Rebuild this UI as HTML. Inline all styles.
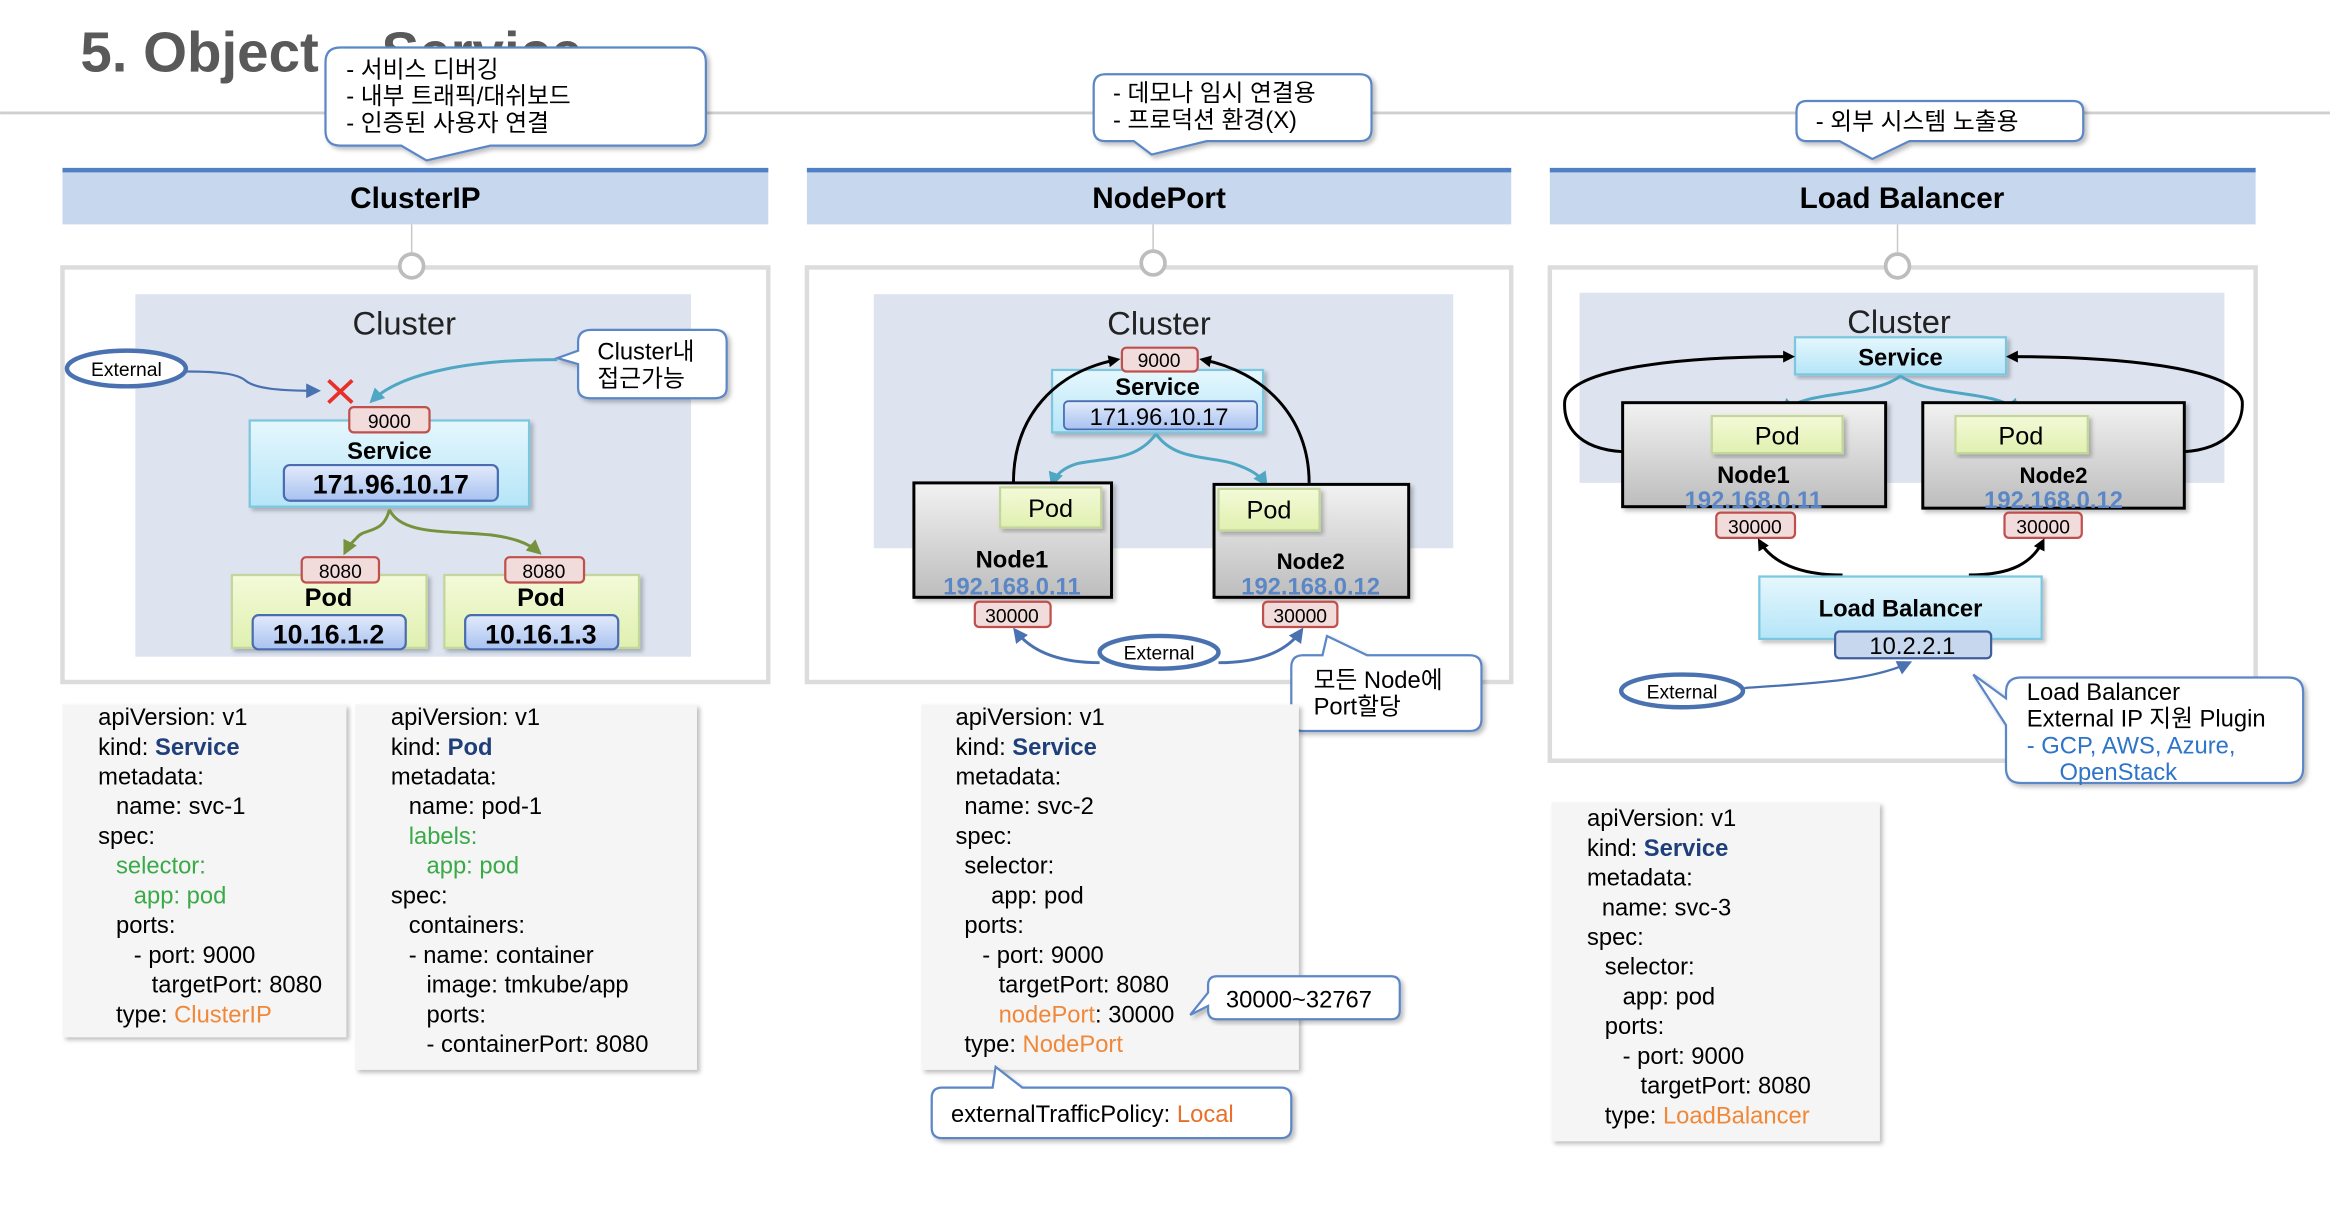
<!DOCTYPE html>
<html><head><meta charset="utf-8"><style>
html,body{margin:0;padding:0;background:#fff;width:2330px;height:1208px;overflow:hidden}
svg{display:block}
text{font-family:"Liberation Sans","Noto Sans CJK KR",sans-serif;fill:#000}
.b{font-weight:bold}
.y{font-size:16px}
.g{fill:#3aaa48}.o{fill:#f0883a}.k{fill:#1f3f7a;font-weight:bold}.bl{fill:#2e74c8}
</style></head><body>
<svg width="2330" height="1208" viewBox="0 0 1568 813" xmlns="http://www.w3.org/2000/svg">
<defs>
<linearGradient id="svc" x1="0" y1="0" x2="0" y2="1"><stop offset="0" stop-color="#e6f7fd"/><stop offset="1" stop-color="#b5e5f8"/></linearGradient>
<linearGradient id="ip" x1="0" y1="0" x2="0" y2="1"><stop offset="0" stop-color="#e3ebfb"/><stop offset="1" stop-color="#a8c2f0"/></linearGradient>
<linearGradient id="pod" x1="0" y1="0" x2="0" y2="1"><stop offset="0" stop-color="#f3fad8"/><stop offset="1" stop-color="#e0f0b0"/></linearGradient>
<linearGradient id="node" x1="0" y1="0" x2="0" y2="1"><stop offset="0" stop-color="#f2f2f2"/><stop offset="1" stop-color="#bdbdbd"/></linearGradient>
<marker id="ak" markerWidth="8" markerHeight="8" refX="6" refY="4" orient="auto" markerUnits="userSpaceOnUse"><path d="M0,0 L8,4 L0,8 z" fill="#000"/></marker>
<marker id="abl" markerWidth="10" markerHeight="10" refX="8" refY="5" orient="auto" markerUnits="userSpaceOnUse"><path d="M0,0 L10,5 L0,10 z" fill="#4a72b0"/></marker>
<marker id="at" markerWidth="10" markerHeight="10" refX="8" refY="5" orient="auto" markerUnits="userSpaceOnUse"><path d="M0,0 L10,5 L0,10 z" fill="#4fa7c3"/></marker>
<marker id="ag" markerWidth="10" markerHeight="10" refX="8" refY="5" orient="auto" markerUnits="userSpaceOnUse"><path d="M0,0 L10,5 L0,10 z" fill="#76923c"/></marker>
<filter id="sh" x="-10%" y="-10%" width="125%" height="125%"><feDropShadow dx="2" dy="2" stdDeviation="1.5" flood-color="#000" flood-opacity="0.25"/></filter>
</defs>

<!-- title + line -->
<line x1="0" y1="76" x2="1568" y2="76" stroke="#cfcfcf" stroke-width="2"/>
<text x="54" y="48" class="b" font-size="38" style="fill:#595959">5. Object – Service</text>

<!-- callouts top -->
<path d="M229,32 H465 Q475,32 475,42 V88 Q475,98 465,98 H330 L287,108 L270,98 H229 Q219,98 219,88 V42 Q219,32 229,32 Z" fill="#fff" stroke="#5b87c7" stroke-width="1.5" filter="url(#sh)"/>
<text x="233" y="52" font-size="16">- 서비스 디버깅</text>
<text x="233" y="70" font-size="16">- 내부 트래픽/대쉬보드</text>
<text x="233" y="88" font-size="16">- 인증된 사용자 연결</text>

<path d="M744,50 H915 Q923,50 923,58 V87 Q923,95 915,95 H812 L775,104 L763,95 H744 Q736,95 736,87 V58 Q736,50 744,50 Z" fill="#fff" stroke="#5b87c7" stroke-width="1.5" filter="url(#sh)"/>
<text x="749" y="68" font-size="16">- 데모나 임시 연결용</text>
<text x="749" y="86" font-size="16">- 프로덕션 환경(X)</text>

<path d="M1216,68 H1395 Q1402,68 1402,75 V88 Q1402,95 1395,95 H1285 L1260,107 L1238,95 H1216 Q1209,95 1209,88 V75 Q1209,68 1216,68 Z" fill="#fff" stroke="#5b87c7" stroke-width="1.5" filter="url(#sh)"/>
<text x="1222" y="87" font-size="16">- 외부 시스템 노출용</text>

<!-- headers -->
<g>
<rect x="42" y="113" width="475" height="38" fill="#c6d7ee"/><rect x="42" y="113" width="475" height="3" fill="#4f7fc4"/>
<text x="279.5" y="140" class="b" font-size="20" text-anchor="middle">ClusterIP</text>
<rect x="543" y="113" width="474" height="38" fill="#c6d7ee"/><rect x="543" y="113" width="474" height="3" fill="#4f7fc4"/>
<text x="780" y="140" class="b" font-size="20" text-anchor="middle">NodePort</text>
<rect x="1043" y="113" width="475" height="38" fill="#c6d7ee"/><rect x="1043" y="113" width="475" height="3" fill="#4f7fc4"/>
<text x="1280" y="140" class="b" font-size="20" text-anchor="middle">Load Balancer</text>
</g>

<!-- outer boxes -->
<rect x="42" y="180" width="475" height="279" fill="#fff" stroke="#dcdcdc" stroke-width="3"/>
<rect x="543" y="180" width="474" height="279" fill="#fff" stroke="#dcdcdc" stroke-width="3"/>
<rect x="1043" y="180" width="475" height="332" fill="#fff" stroke="#dcdcdc" stroke-width="3"/>
<g stroke="#c8c8c8" stroke-width="1"><line x1="277" y1="151" x2="277" y2="171"/><line x1="776" y1="151" x2="776" y2="171"/><line x1="1277" y1="151" x2="1277" y2="171"/></g>
<g fill="#fff" stroke="#bdbdbd" stroke-width="2.5"><circle cx="277" cy="179" r="8"/><circle cx="776" cy="177" r="8"/><circle cx="1277" cy="179" r="8"/></g>

<!-- ===== ClusterIP ===== -->
<rect x="91" y="198" width="374" height="244" fill="#dde4f0"/>
<text x="272" y="225" font-size="22" text-anchor="middle" style="fill:#222">Cluster</text>
<ellipse cx="85" cy="248" rx="40" ry="12" fill="#fff" stroke="#4a72b0" stroke-width="3"/>
<text x="85" y="253" font-size="13" text-anchor="middle">External</text>
<path d="M125,250 C150,250 160,252 165,256 C172,262 190,263 214,263" fill="none" stroke="#4a72b0" stroke-width="1.5" marker-end="url(#abl)"/>
<path d="M221,256 L237,271 M237,256 L221,271" stroke="#e8302a" stroke-width="2.5"/>
<path d="M398,222 H481 Q489,222 489,230 V261 Q489,268 481,268 H397 Q389,268 389,261 V245 L375,241 L389,236 V230 Q389,222 398,222 Z" fill="#fff" stroke="#5b87c7" stroke-width="1.5" filter="url(#sh)"/>
<text x="402" y="242" font-size="16">Cluster내</text>
<text x="402" y="260" font-size="16">접근가능</text>
<path d="M375,242 C320,242 270,250 250,270" fill="none" stroke="#4fa7c3" stroke-width="2" marker-end="url(#at)"/>
<rect x="168" y="283" width="188" height="58" fill="url(#svc)" stroke="#7cc6df" stroke-width="1.5" filter="url(#sh)"/>
<rect x="235" y="274" width="54" height="17" rx="3" fill="#f2dcdb" stroke="#c0504d" stroke-width="1.5"/>
<text x="262" y="288" font-size="13" text-anchor="middle">9000</text>
<text x="262" y="309" class="b" font-size="16" text-anchor="middle">Service</text>
<rect x="191" y="313" width="144" height="24" rx="4" fill="url(#ip)" stroke="#4a6db2" stroke-width="1.5"/>
<text x="263" y="332" class="b" font-size="18" text-anchor="middle">171.96.10.17</text>
<path d="M262,343 C258,360 245,355 240,362 C236,366 234,368 232,372" fill="none" stroke="#76923c" stroke-width="2" marker-end="url(#ag)"/>
<path d="M262,343 C270,360 300,357 330,360 C345,362 355,365 363,372" fill="none" stroke="#76923c" stroke-width="2" marker-end="url(#ag)"/>
<rect x="156" y="387" width="131" height="49" fill="url(#pod)" stroke="#c3d69b" stroke-width="1.5" filter="url(#sh)"/>
<rect x="299" y="387" width="131" height="49" fill="url(#pod)" stroke="#c3d69b" stroke-width="1.5" filter="url(#sh)"/>
<rect x="203" y="375" width="52" height="17" rx="3" fill="#f2dcdb" stroke="#c0504d" stroke-width="1.5"/>
<rect x="340" y="375" width="53" height="17" rx="3" fill="#f2dcdb" stroke="#c0504d" stroke-width="1.5"/>
<text x="229" y="389" font-size="13" text-anchor="middle">8080</text>
<text x="366" y="389" font-size="13" text-anchor="middle">8080</text>
<text x="221" y="408" class="b" font-size="17" text-anchor="middle">Pod</text>
<text x="364" y="408" class="b" font-size="17" text-anchor="middle">Pod</text>
<rect x="170" y="414" width="103" height="23" rx="4" fill="url(#ip)" stroke="#4a6db2" stroke-width="1.5"/>
<rect x="313" y="414" width="103" height="23" rx="4" fill="url(#ip)" stroke="#4a6db2" stroke-width="1.5"/>
<text x="221" y="433" class="b" font-size="18" text-anchor="middle">10.16.1.2</text>
<text x="364" y="433" class="b" font-size="18" text-anchor="middle">10.16.1.3</text>

<!-- yaml 1 & 2 -->
<rect x="42" y="474" width="191" height="224" fill="#f5f5f5" filter="url(#sh)"/>
<g class="y">
<text x="66" y="488" font-size="16">apiVersion: v1</text>
<text x="66" y="508" font-size="16">kind: <tspan class="k">Service</tspan></text>
<text x="66" y="528" font-size="16">metadata:</text>
<text x="78" y="548" font-size="16">name: svc-1</text>
<text x="66" y="568" font-size="16">spec:</text>
<text x="78" y="588" font-size="16" class="g">selector:</text>
<text x="90" y="608" font-size="16" class="g">app: pod</text>
<text x="78" y="628" font-size="16">ports:</text>
<text x="90" y="648" font-size="16">- port: 9000</text>
<text x="102" y="668" font-size="16">targetPort: 8080</text>
<text x="78" y="688" font-size="16">type: <tspan class="o">ClusterIP</tspan></text>
</g>
<rect x="239" y="474" width="230" height="246" fill="#f5f5f5" filter="url(#sh)"/>
<g>
<text x="263" y="488" font-size="16">apiVersion: v1</text>
<text x="263" y="508" font-size="16">kind: <tspan class="k">Pod</tspan></text>
<text x="263" y="528" font-size="16">metadata:</text>
<text x="275" y="548" font-size="16">name: pod-1</text>
<text x="275" y="568" font-size="16" class="g">labels:</text>
<text x="287" y="588" font-size="16" class="g">app: pod</text>
<text x="263" y="608" font-size="16">spec:</text>
<text x="275" y="628" font-size="16">containers:</text>
<text x="275" y="648" font-size="16">- name: container</text>
<text x="287" y="668" font-size="16">image: tmkube/app</text>
<text x="287" y="688" font-size="16">ports:</text>
<text x="287" y="708" font-size="16">- containerPort: 8080</text>
</g>

<!-- ===== NodePort ===== -->
<rect x="588" y="198" width="390" height="171" fill="#dde4f0"/>
<text x="780" y="225" font-size="22" text-anchor="middle" style="fill:#222">Cluster</text>
<rect x="708" y="249" width="142" height="42" fill="url(#svc)" stroke="#7cc6df" stroke-width="1.5" filter="url(#sh)"/>
<rect x="755" y="234" width="51" height="16" rx="3" fill="#f2dcdb" stroke="#c0504d" stroke-width="1.5"/>
<text x="780" y="247" font-size="13" text-anchor="middle">9000</text>
<text x="779" y="266" class="b" font-size="16" text-anchor="middle">Service</text>
<rect x="716" y="270" width="130" height="19" rx="3" fill="url(#ip)" stroke="#4a6db2" stroke-width="1.2"/>
<text x="780" y="286" font-size="16" text-anchor="middle">171.96.10.17</text>
<path d="M682,325 C682,280 710,250 752,242" fill="none" stroke="#000" stroke-width="2" marker-end="url(#ak)"/>
<path d="M881,325 C881,280 850,250 809,242" fill="none" stroke="#000" stroke-width="2" marker-end="url(#ak)"/>
<path d="M778,292 C765,310 745,308 725,312 C715,315 710,320 708,326" fill="none" stroke="#4fa7c3" stroke-width="2" marker-end="url(#at)"/>
<path d="M778,292 C790,310 815,307 830,312 C842,316 848,320 852,326" fill="none" stroke="#4fa7c3" stroke-width="2" marker-end="url(#at)"/>
<rect x="615" y="325" width="133" height="77" fill="url(#node)" stroke="#000" stroke-width="2" filter="url(#sh)"/>
<rect x="817" y="326" width="131" height="76" fill="url(#node)" stroke="#000" stroke-width="2" filter="url(#sh)"/>
<rect x="673" y="328" width="68" height="27" fill="url(#pod)" stroke="#c3d69b" stroke-width="1.5" filter="url(#sh)"/>
<rect x="820" y="329" width="68" height="28" fill="url(#pod)" stroke="#c3d69b" stroke-width="1.5" filter="url(#sh)"/>
<text x="707" y="348" font-size="17" text-anchor="middle">Pod</text>
<text x="854" y="349" font-size="17" text-anchor="middle">Pod</text>
<text x="681" y="382" class="b" font-size="16" text-anchor="middle">Node1</text>
<text x="681" y="400" class="b" font-size="16" text-anchor="middle" style="fill:#5b87c7">192.168.0.11</text>
<text x="882" y="383" class="b" font-size="15" text-anchor="middle">Node2</text>
<text x="882" y="400" class="b" font-size="16" text-anchor="middle" style="fill:#5b87c7">192.168.0.12</text>
<rect x="656" y="405" width="51" height="17" rx="3" fill="#f2dcdb" stroke="#c0504d" stroke-width="1.5"/>
<rect x="850" y="405" width="50" height="17" rx="3" fill="#f2dcdb" stroke="#c0504d" stroke-width="1.5"/>
<text x="681" y="419" font-size="13" text-anchor="middle">30000</text>
<text x="875" y="419" font-size="13" text-anchor="middle">30000</text>
<path d="M740,446 C715,446 695,440 683,424" fill="none" stroke="#4a72b0" stroke-width="2" marker-end="url(#abl)"/>
<path d="M820,446 C845,446 865,440 876,424" fill="none" stroke="#4a72b0" stroke-width="2" marker-end="url(#abl)"/>
<ellipse cx="780" cy="439" rx="40" ry="11" fill="#fff" stroke="#4a72b0" stroke-width="3"/>
<text x="780" y="444" font-size="13" text-anchor="middle">External</text>
<path d="M877,441 H890 L893,428 L920,441 H989 Q997,441 997,449 V484 Q997,492 989,492 H877 Q869,492 869,484 V449 Q869,441 877,441 Z" fill="#fff" stroke="#5b87c7" stroke-width="1.5" filter="url(#sh)"/>
<text x="884" y="463" font-size="16">모든 Node에</text>
<text x="884" y="481" font-size="16">Port할당</text>

<rect x="620" y="474" width="254" height="246" fill="#f5f5f5" filter="url(#sh)"/>
<text x="643" y="488" font-size="16">apiVersion: v1</text>
<text x="643" y="508" font-size="16">kind: <tspan class="k">Service</tspan></text>
<text x="643" y="528" font-size="16">metadata:</text>
<text x="649" y="548" font-size="16">name: svc-2</text>
<text x="643" y="568" font-size="16">spec:</text>
<text x="649" y="588" font-size="16">selector:</text>
<text x="667" y="608" font-size="16">app: pod</text>
<text x="649" y="628" font-size="16">ports:</text>
<text x="661" y="648" font-size="16">- port: 9000</text>
<text x="672" y="668" font-size="16">targetPort: 8080</text>
<text x="672" y="688" font-size="16"><tspan class="o">nodePort</tspan>: 30000</text>
<text x="649" y="708" font-size="16">type: <tspan class="o">NodePort</tspan></text>
<path d="M819,657 H936 Q942,657 942,663 V680 Q942,686 936,686 H819 Q813,686 813,680 V677 L801,683 L813,668 V663 Q813,657 819,657 Z" fill="#fff" stroke="#5b87c7" stroke-width="1.5" filter="url(#sh)"/>
<text x="825" y="678" font-size="16">30000~32767</text>
<path d="M634,732 H668 L670,718 L688,732 H862 Q869,732 869,739 V759 Q869,766 862,766 H634 Q627,766 627,759 V739 Q627,732 634,732 Z" fill="#fff" stroke="#5b87c7" stroke-width="1.5" filter="url(#sh)"/>
<text x="640" y="755" font-size="16">externalTrafficPolicy: <tspan style="fill:#e8702a">Local</tspan></text>

<!-- ===== Load Balancer ===== -->
<rect x="1063" y="197" width="434" height="128" fill="#dde4f0"/>
<text x="1278" y="224" font-size="22" text-anchor="middle" style="fill:#222">Cluster</text>
<rect x="1208" y="227" width="142" height="25" fill="url(#svc)" stroke="#7cc6df" stroke-width="1.5" filter="url(#sh)"/>
<text x="1279" y="246" class="b" font-size="16" text-anchor="middle">Service</text>
<path d="M1092,304 C1060,302 1052,285 1053,270 C1056,248 1130,240 1206,240" fill="none" stroke="#000" stroke-width="2" marker-end="url(#ak)"/>
<path d="M1470,304 C1500,302 1510,285 1509,270 C1505,248 1430,240 1352,240" fill="none" stroke="#000" stroke-width="2" marker-end="url(#ak)"/>
<path d="M1279,253 C1260,268 1215,262 1200,277" fill="none" stroke="#4fa7c3" stroke-width="2" marker-end="url(#at)"/>
<path d="M1279,253 C1300,268 1345,262 1358,277" fill="none" stroke="#4fa7c3" stroke-width="2" marker-end="url(#at)"/>
<rect x="1092" y="271" width="177" height="70" fill="url(#node)" stroke="#000" stroke-width="2" filter="url(#sh)"/>
<rect x="1294" y="271" width="176" height="71" fill="url(#node)" stroke="#000" stroke-width="2" filter="url(#sh)"/>
<rect x="1152" y="280" width="88" height="25" fill="url(#pod)" stroke="#c3d69b" stroke-width="1.5" filter="url(#sh)"/>
<rect x="1316" y="280" width="89" height="25" fill="url(#pod)" stroke="#c3d69b" stroke-width="1.5" filter="url(#sh)"/>
<text x="1196" y="299" font-size="17" text-anchor="middle">Pod</text>
<text x="1360" y="299" font-size="17" text-anchor="middle">Pod</text>
<text x="1180" y="325" class="b" font-size="16" text-anchor="middle">Node1</text>
<text x="1180" y="342" class="b" font-size="16" text-anchor="middle" style="fill:#5b87c7">192.168.0.11</text>
<text x="1382" y="325" class="b" font-size="15" text-anchor="middle">Node2</text>
<text x="1382" y="342" class="b" font-size="16" text-anchor="middle" style="fill:#5b87c7">192.168.0.12</text>
<rect x="1155" y="345" width="53" height="17" rx="3" fill="#f2dcdb" stroke="#c0504d" stroke-width="1.5"/>
<rect x="1349" y="345" width="52" height="17" rx="3" fill="#f2dcdb" stroke="#c0504d" stroke-width="1.5"/>
<text x="1181" y="359" font-size="13" text-anchor="middle">30000</text>
<text x="1375" y="359" font-size="13" text-anchor="middle">30000</text>
<path d="M1240,387 C1210,387 1192,378 1184,364" fill="none" stroke="#000" stroke-width="2" marker-end="url(#ak)"/>
<path d="M1325,387 C1355,387 1368,378 1375,364" fill="none" stroke="#000" stroke-width="2" marker-end="url(#ak)"/>
<rect x="1184" y="388" width="190" height="42" fill="url(#svc)" stroke="#7cc6df" stroke-width="1.5" filter="url(#sh)"/>
<text x="1279" y="415" class="b" font-size="16" text-anchor="middle">Load Balancer</text>
<rect x="1235" y="425" width="105" height="18" rx="3" fill="#c6d7ee" stroke="#3f5f9c" stroke-width="1.5"/>
<text x="1287" y="440" font-size="16" text-anchor="middle">10.2.2.1</text>
<path d="M1174,463 C1220,460 1260,458 1285,446" fill="none" stroke="#4a72b0" stroke-width="1.5" marker-end="url(#abl)"/>
<ellipse cx="1132" cy="465" rx="41" ry="11" fill="#fff" stroke="#4a72b0" stroke-width="3"/>
<text x="1132" y="470" font-size="13" text-anchor="middle">External</text>
<path d="M1360,456 H1540 Q1550,456 1550,466 V517 Q1550,527 1540,527 H1360 Q1350,527 1350,517 V488 L1328,454 L1350,470 V466 Q1350,456 1360,456 Z" fill="#fff" stroke="#5b87c7" stroke-width="1.5" filter="url(#sh)"/>
<text x="1364" y="471" font-size="16">Load Balancer</text>
<text x="1364" y="489" font-size="16">External IP 지원 Plugin</text>
<text x="1364" y="507" font-size="16" class="bl">-   GCP, AWS, Azure,</text>
<text x="1386" y="525" font-size="16" class="bl">OpenStack</text>

<rect x="1044" y="540" width="221" height="228" fill="#f5f5f5" filter="url(#sh)"/>
<text x="1068" y="556" font-size="16">apiVersion: v1</text>
<text x="1068" y="576" font-size="16">kind: <tspan class="k">Service</tspan></text>
<text x="1068" y="596" font-size="16">metadata:</text>
<text x="1078" y="616" font-size="16">name: svc-3</text>
<text x="1068" y="636" font-size="16">spec:</text>
<text x="1080" y="656" font-size="16">selector:</text>
<text x="1092" y="676" font-size="16">app: pod</text>
<text x="1080" y="696" font-size="16">ports:</text>
<text x="1092" y="716" font-size="16">- port: 9000</text>
<text x="1104" y="736" font-size="16">targetPort: 8080</text>
<text x="1080" y="756" font-size="16">type: <tspan class="o">LoadBalancer</tspan></text>
</svg>
</body></html>
